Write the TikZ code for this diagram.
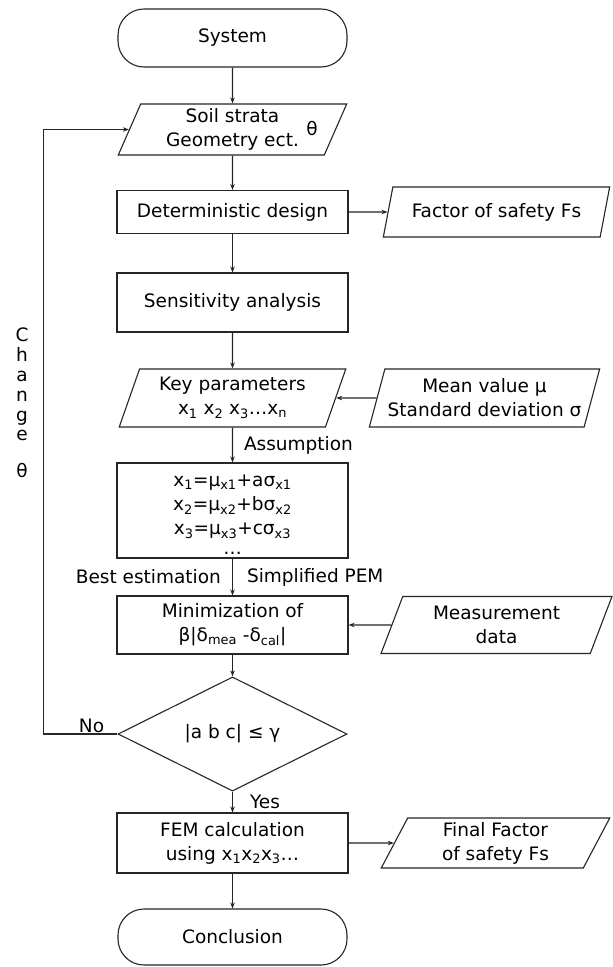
\documentclass[tikz,border=0pt]{standalone}
\usepackage{fontspec}
\setmainfont{DejaVu Sans}
\usetikzlibrary{shapes.geometric,arrows.meta}
\newcommand\dfont{\fontsize{18.5}{24}\selectfont}
\newcommand\cfont{\fontsize{18.5}{19.8}\selectfont}
\newcommand\efont{\fontsize{18.5}{24}\selectfont}
\tikzset{
  base/.style={draw=black!85, line width=1.1pt, font=\dfont, align=center, inner sep=2pt},
  proc/.style={base, rectangle, minimum width=231pt},
  term/.style={base, rectangle, rounded corners=26pt, minimum width=229pt, minimum height=58pt},
  io/.style={base, trapezium, trapezium left angle=70, trapezium right angle=110, trapezium stretches=true},
  dec/.style={base, diamond, minimum width=229pt, minimum height=83pt, inner sep=0pt},
  arr/.style={-{Stealth[length=6pt,width=4.5pt]}, line width=1.1pt, draw=black!85},
  lab/.style={font=\dfont, inner sep=1pt}
}
\begin{document}
\begin{tikzpicture}[x=1pt,y=-1pt]
\fill[white] (0,0) rectangle (613,967);
\path[use as bounding box] (0,0) rectangle (613,967);

\node[term] (sys) at (232.5,38) {System};
\node[io, minimum width=229pt, minimum height=51pt] (soil) at (232.5,129.5) {Soil strata\\Geometry ect.};
\node[lab] (theta) at (312,128) {θ};
\node[proc, minimum height=43pt] (det) at (232.5,212) {Deterministic design};
\node[io, minimum width=227pt, minimum height=50pt] (fs) at (496.5,212) {Factor of safety Fs};
\node[proc, minimum height=59pt] (sens) at (232.5,302.5) {Sensitivity analysis};
\node[io, minimum width=227pt, minimum height=58pt] (key) at (232.5,398) {Key parameters\\x\textsubscript{1} x\textsubscript{2} x\textsubscript{3}…x\textsubscript{n}};
\node[io, minimum width=231pt, minimum height=58pt] (mean) at (484.5,398) {Mean value μ\\Standard deviation σ};
\node[proc, minimum height=95pt, font=\efont] (eq) at (232.5,510.5) {\rule{0pt}{20pt}x\textsubscript{1}=μ\textsubscript{x1}+aσ\textsubscript{x1}\\x\textsubscript{2}=μ\textsubscript{x2}+bσ\textsubscript{x2}\\x\textsubscript{3}=μ\textsubscript{x3}+cσ\textsubscript{x3}\\[-4pt]…};
\node[proc, minimum height=58pt] (minim) at (232.5,625) {Minimization of\\β|δ\textsubscript{mea} -δ\textsubscript{cal}|};
\node[io, minimum width=231pt, minimum height=57pt] (meas) at (496.5,625) {Measurement\\data};
\node[dec] (dia) at (232.5,734) {|a b c| ≤ γ};
\node[proc, minimum height=60pt] (fem) at (232.5,843) {FEM calculation\\using x\textsubscript{1}x\textsubscript{2}x\textsubscript{3}…};
\node[io, minimum width=229pt, minimum height=50pt] (final) at (495.5,843) {Final Factor\\of safety Fs};
\node[term, minimum height=56pt] (concl) at (232.5,937) {Conclusion};

\node[lab, font=\cfont, align=center, anchor=north] (chg) at (22,327) {C\\h\\a\\n\\g\\e\\[17pt]θ};

\draw[arr] (sys) -- (soil);
\draw[arr] (soil) -- (det);
\draw[arr] (det) -- (fs);
\draw[arr] (det) -- (sens);
\draw[arr] (sens) -- (key);
\draw[arr] (mean) -- (key);
\draw[arr] (key) -- node[lab, right, xshift=10pt] (asm) {Assumption} (eq);
\draw[arr] (eq) -- node[lab, left, xshift=-10pt] (best) {Best estimation} node[lab, right, xshift=13pt] (spem) {Simplified PEM} (minim);
\draw[arr] (meas) -- (minim);
\draw[arr] (minim) -- (dia);
\draw[arr] (dia) -- node[lab, right, xshift=16pt] (yes) {Yes} (fem);
\draw[arr] (fem) -- (final);
\draw[arr] (fem) -- (concl);
\draw[arr] (dia.west) -- node[lab, above, pos=0.35] (no) {No} ++(-74,0) coordinate (fb) |- (soil);
\end{tikzpicture}
\end{document}
